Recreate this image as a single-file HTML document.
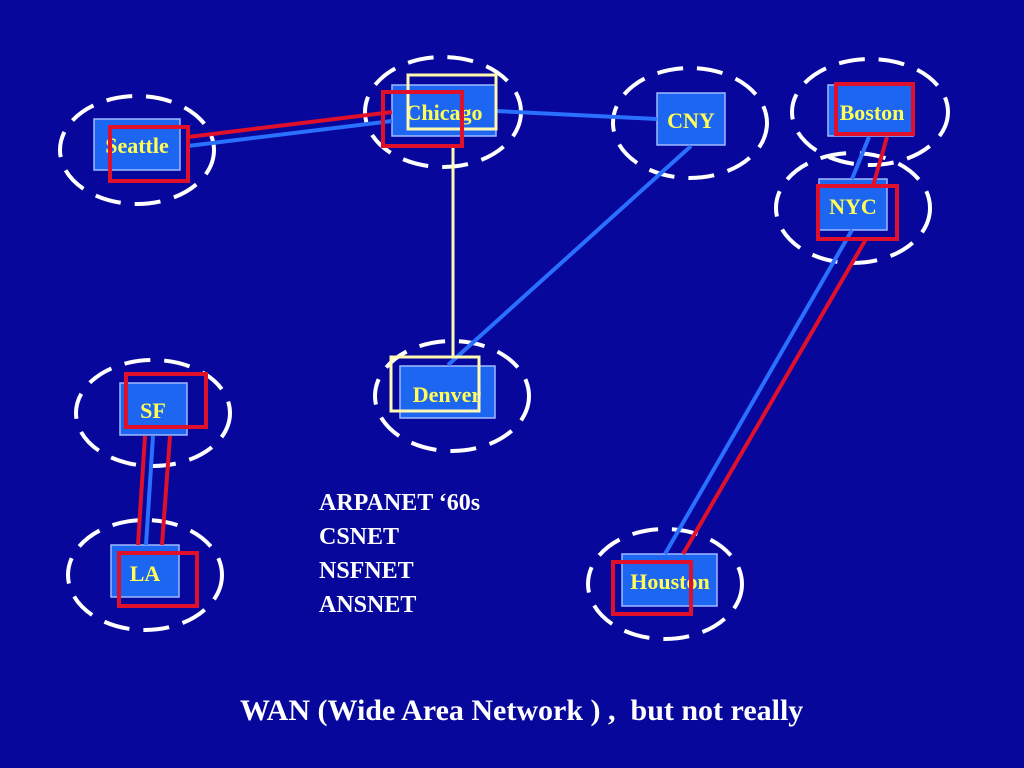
<!DOCTYPE html>
<html><head><meta charset="utf-8"><style>
html,body{margin:0;padding:0;background:#07079c;}
svg{display:block}
</style></head><body>
<svg width="1024" height="768" xmlns="http://www.w3.org/2000/svg" font-family="Liberation Serif, serif" font-weight="bold">
<rect width="1024" height="768" fill="#07079c"/>
<g fill="none" stroke="#fff" stroke-width="4" stroke-dasharray="26,14">
<ellipse cx="137" cy="150" rx="77" ry="54"/>
<ellipse cx="443" cy="112" rx="78" ry="55"/>
<ellipse cx="690" cy="123" rx="77" ry="55"/>
<ellipse cx="870" cy="112" rx="78" ry="53"/>
<ellipse cx="853" cy="208" rx="77" ry="55"/>
<ellipse cx="452" cy="396" rx="77" ry="55"/>
<ellipse cx="153" cy="413" rx="77" ry="53"/>
<ellipse cx="145" cy="575" rx="77" ry="55"/>
<ellipse cx="665" cy="584" rx="77" ry="55"/>
</g>
<g fill="#1d66f2" stroke="#9fb8ff" stroke-width="1.5">
<rect x="94" y="119" width="86" height="51"/>
<rect x="392" y="85" width="104" height="51"/>
<rect x="657" y="93" width="68" height="52"/>
<rect x="828" y="85" width="85" height="51"/>
<rect x="819" y="179" width="68" height="51"/>
<rect x="400" y="366" width="95" height="52"/>
<rect x="120" y="383" width="67" height="52"/>
<rect x="111" y="545" width="68" height="52"/>
<rect x="622" y="554" width="95" height="52"/>
</g>
<g stroke-width="4" fill="none">
<line x1="188" y1="146" x2="392" y2="121" stroke="#2a70ff"/>
<line x1="188" y1="137" x2="392" y2="112" stroke="#e0102a"/>
<line x1="496" y1="111" x2="657" y2="119" stroke="#2a70ff"/>
<line x1="453" y1="146" x2="453" y2="357" stroke="#fff8b0" stroke-width="3"/>
<line x1="691" y1="146" x2="448" y2="365" stroke="#2a70ff"/>
<line x1="869" y1="137" x2="852" y2="179" stroke="#2a70ff"/>
<line x1="887" y1="137" x2="873" y2="186" stroke="#e0102a"/>
<line x1="852" y1="230" x2="665" y2="554" stroke="#2a70ff"/>
<line x1="866" y1="239" x2="683" y2="554" stroke="#e0102a"/>
<line x1="153" y1="436" x2="146" y2="545" stroke="#2a70ff"/>
<line x1="145" y1="436" x2="138" y2="545" stroke="#e0102a"/>
<line x1="170" y1="436" x2="162" y2="545" stroke="#e0102a"/>
</g>
<g fill="#ffff55" font-size="22" text-anchor="middle">
<text x="137" y="153">Seattle</text>
<text x="444" y="120">Chicago</text>
<text x="691" y="128">CNY</text>
<text x="872" y="120">Boston</text>
<text x="853" y="214">NYC</text>
<text x="447" y="402">Denver</text>
<text x="153" y="418">SF</text>
<text x="145" y="581">LA</text>
<text x="670" y="589">Houston</text>
</g>
<g fill="none" stroke-width="4">
<rect x="110" y="127" width="78" height="54" stroke="#e0102a"/>
<rect x="408" y="75" width="88" height="54" stroke="#fff8b0" stroke-width="3"/>
<rect x="383" y="92" width="79" height="54" stroke="#e0102a"/>
<rect x="836" y="84" width="77" height="50" stroke="#e0102a"/>
<rect x="818" y="186" width="79" height="53" stroke="#e0102a"/>
<rect x="391" y="357" width="88" height="54" stroke="#fff8b0" stroke-width="3"/>
<rect x="126" y="374" width="80" height="53" stroke="#e0102a"/>
<rect x="119" y="553" width="78" height="53" stroke="#e0102a"/>
<rect x="613" y="562" width="78" height="52" stroke="#e0102a"/>
</g>
<g fill="#fff" font-size="24">
<text x="319" y="510">ARPANET ‘60s</text>
<text x="319" y="544">CSNET</text>
<text x="319" y="578">NSFNET</text>
<text x="319" y="612">ANSNET</text>
<text x="240" y="720" font-size="30" xml:space="preserve">WAN (Wide Area Network ) ,  but not really</text>
</g>
</svg>
</body></html>
